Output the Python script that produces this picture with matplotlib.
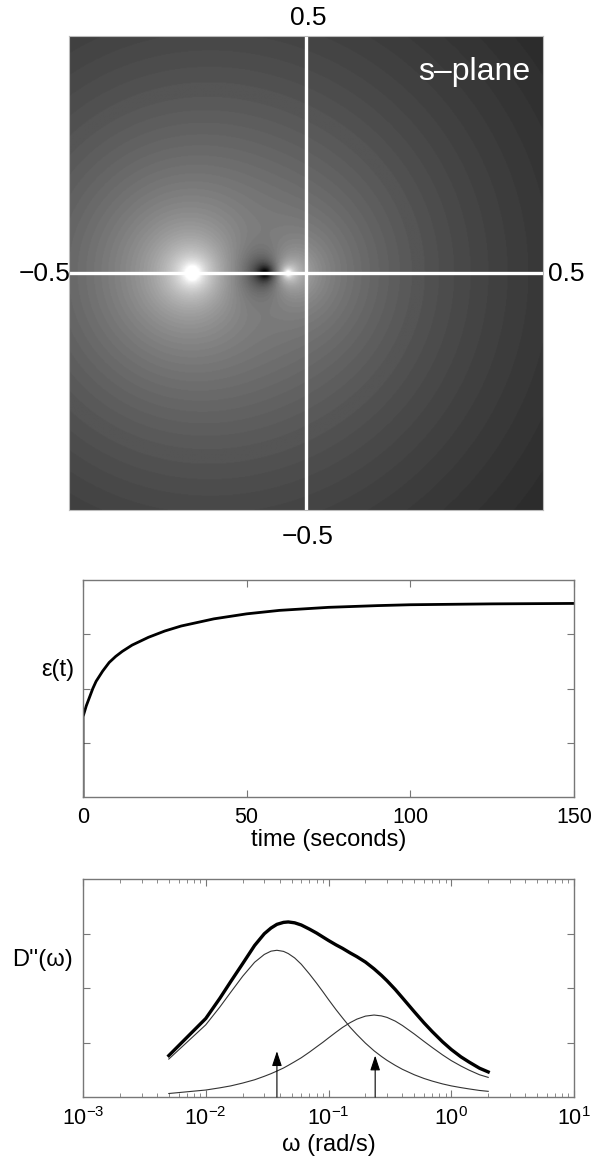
import numpy as np
import matplotlib
matplotlib.use("Agg")
import matplotlib.pyplot as plt
from matplotlib.ticker import LogLocator, NullFormatter, FixedLocator

plt.rcParams['font.family'] = ['Liberation Sans', 'DejaVu Sans']
plt.rcParams['mathtext.fontset'] = 'custom'
plt.rcParams['mathtext.rm'] = 'Liberation Sans'
plt.rcParams['mathtext.it'] = 'Liberation Sans:italic'
plt.rcParams['mathtext.default'] = 'regular'

# ---------------- data ----------------
# s-plane: pole / zero locations (real axis)
poles = [-0.24, -0.038]
zeros = [-0.087]
splane_ticks = ["0.5", "\u22120.5", "0.5", "\u22120.5"]  # top, left, right, bottom

# creep strain response
t_vals = [0, 0, 1, 2, 3, 4, 6, 8, 10, 12, 15, 20, 25, 30, 40, 50, 60, 75, 90, 100, 125, 150]
strain = [0, 0.37, 0.42, 0.46, 0.50, 0.533, 0.58, 0.62, 0.648, 0.671, 0.70, 0.736,
          0.765, 0.788, 0.821, 0.844, 0.86, 0.874, 0.882, 0.886, 0.89, 0.892]
t_ticks = [0, 50, 100, 150]

# loss compliance spectrum
omega = [0.005, 0.01, 0.013, 0.016, 0.02, 0.025, 0.03, 0.034, 0.038, 0.043, 0.047, 0.053,
         0.06, 0.07, 0.08, 0.09, 0.1, 0.115, 0.13, 0.15, 0.17, 0.2, 0.235, 0.27, 0.3,
         0.35, 0.4, 0.5, 0.6, 0.7, 0.85, 1.0, 1.2, 1.4, 1.7, 2.0]
loss_total = [0.190, 0.360, 0.452, 0.530, 0.612, 0.695, 0.749, 0.775, 0.792, 0.801, 0.803,
              0.799, 0.789, 0.770, 0.752, 0.734, 0.718, 0.698, 0.682, 0.661, 0.644, 0.619,
              0.588, 0.558, 0.533, 0.493, 0.455, 0.391, 0.340, 0.300, 0.253, 0.218, 0.184,
              0.160, 0.132, 0.115]
loss_comp1 = [0.174, 0.331, 0.412, 0.481, 0.554, 0.618, 0.654, 0.669, 0.673, 0.668, 0.658,
              0.638, 0.609, 0.564, 0.522, 0.483, 0.447, 0.401, 0.363, 0.320, 0.287, 0.247,
              0.212, 0.186, 0.168, 0.145, 0.127, 0.102, 0.085, 0.073, 0.060, 0.051, 0.043,
              0.037, 0.030, 0.026]
loss_comp2 = [0.016, 0.032, 0.042, 0.051, 0.064, 0.079, 0.095, 0.107, 0.119, 0.133, 0.145,
              0.162, 0.180, 0.206, 0.230, 0.251, 0.271, 0.297, 0.319, 0.341, 0.357, 0.371,
              0.376, 0.372, 0.365, 0.348, 0.328, 0.289, 0.255, 0.227, 0.193, 0.167, 0.142,
              0.123, 0.102, 0.090]
arrow_omega = [0.038, 0.24]
arrow_height = [0.21, 0.19]

# ---------------- figure ----------------
W, H = 592, 1161
fig = plt.figure(figsize=(W / 100, H / 100), dpi=100)

def fx(px):
    return px / W

def fy(py):
    return 1 - py / H

# ----- s-plane panel -----
ax1 = fig.add_axes([fx(69), fy(510), fx(474), 474 / H])
n = 600
re = np.linspace(-0.5, 0.5, n)
im = np.linspace(-0.5, 0.5, n)
RE, IM = np.meshgrid(re, im)
S = RE + 1j * IM
Hs = np.ones_like(S)
shade = np.ones(S.shape)
for z in zeros:
    Hs = Hs * (S - z)
    d2 = np.abs(S - z) ** 2
    shade = shade * d2 / (d2 + 0.008 ** 2)
for p in poles:
    Hs = Hs / (S - p)
L = np.log10(np.abs(Hs) + 1e-12)
gray = np.clip((0.14 + 0.5 * L) * shade, 0, 1)
ax1.imshow(gray, cmap=plt.get_cmap('gray', 64), vmin=0, vmax=1, origin='lower',
           extent=[-0.5, 0.5, -0.5, 0.5], interpolation='bilinear', aspect='auto')
ax1.axhline(0, color='white', lw=2.4)
ax1.axvline(0, color='white', lw=2.4)
ax1.set_xlim(-0.5, 0.5)
ax1.set_ylim(-0.5, 0.5)
ax1.set_xticks([])
ax1.set_yticks([])
for sp in ax1.spines.values():
    sp.set_color('#bbbbbb')
    sp.set_linewidth(0.8)
ax1.text(0.973, 0.907, "s\u2013plane", color='white', fontsize=23,
         ha='right', va='baseline', transform=ax1.transAxes)

fs_s = 19
fig.text(fx(308), fy(18), splane_ticks[0], fontsize=fs_s, ha='center', va='center')
fig.text(fx(71), fy(274), splane_ticks[1], fontsize=fs_s, ha='right', va='center')
fig.text(fx(548), fy(274), splane_ticks[2], fontsize=fs_s, ha='left', va='center')
fig.text(fx(308), fy(537), splane_ticks[3], fontsize=fs_s, ha='center', va='center')

spine_col = '#777777'

def style_axes(ax):
    for sp in ax.spines.values():
        sp.set_color(spine_col)
        sp.set_linewidth(1.0)
    ax.tick_params(which='both', direction='in', top=True, right=True,
                   color=spine_col, labelsize=15.5, pad=7)
    ax.tick_params(which='major', length=5)
    ax.tick_params(which='minor', length=3)

# ----- creep panel -----
ax2 = fig.add_axes([fx(83), fy(797), fx(491), 217 / H])
ax2.plot(t_vals, strain, color='black', lw=2.0, solid_capstyle='butt')
ax2.set_xlim(0, 150)
ax2.set_ylim(0, 1)
ax2.set_xticks(t_ticks)
ax2.yaxis.set_major_locator(FixedLocator([0.25, 0.5, 0.75]))
ax2.set_yticklabels([])
style_axes(ax2)
ax2.set_xlabel("time (seconds)", fontsize=17, labelpad=1)
fig.text(fx(58), fy(670), "\u03b5(t)", fontsize=17, ha='center', va='center')

# ----- loss spectrum panel -----
ax3 = fig.add_axes([fx(83), fy(1097), fx(491), 218 / H])
ax3.set_xscale('log')
ax3.plot(omega, loss_comp1, color='#333333', lw=0.8)
ax3.plot(omega, loss_comp2, color='#333333', lw=0.8)
ax3.plot(omega, loss_total, color='black', lw=2.4)
for w, h in zip(arrow_omega, arrow_height):
    ax3.annotate("", xy=(w, h), xytext=(w, 0),
                 arrowprops=dict(arrowstyle='-|>,head_length=0.9,head_width=0.3',
                                 color='black', lw=0.8, shrinkA=0, shrinkB=0))
ax3.set_xlim(1e-3, 1e1)
ax3.set_ylim(0, 1)
ax3.xaxis.set_major_locator(LogLocator(base=10, numticks=10))
ax3.xaxis.set_minor_locator(LogLocator(base=10, subs=np.arange(2, 10), numticks=20))
ax3.xaxis.set_minor_formatter(NullFormatter())
ax3.yaxis.set_major_locator(FixedLocator([0.25, 0.5, 0.75]))
ax3.set_yticklabels([])
style_axes(ax3)
ax3.set_xlabel("\u03c9 (rad/s)", fontsize=17, labelpad=3)
fig.text(fx(43), fy(960), "D''(\u03c9)", fontsize=17, ha='center', va='center')

fig.savefig("out.png", dpi=100)
